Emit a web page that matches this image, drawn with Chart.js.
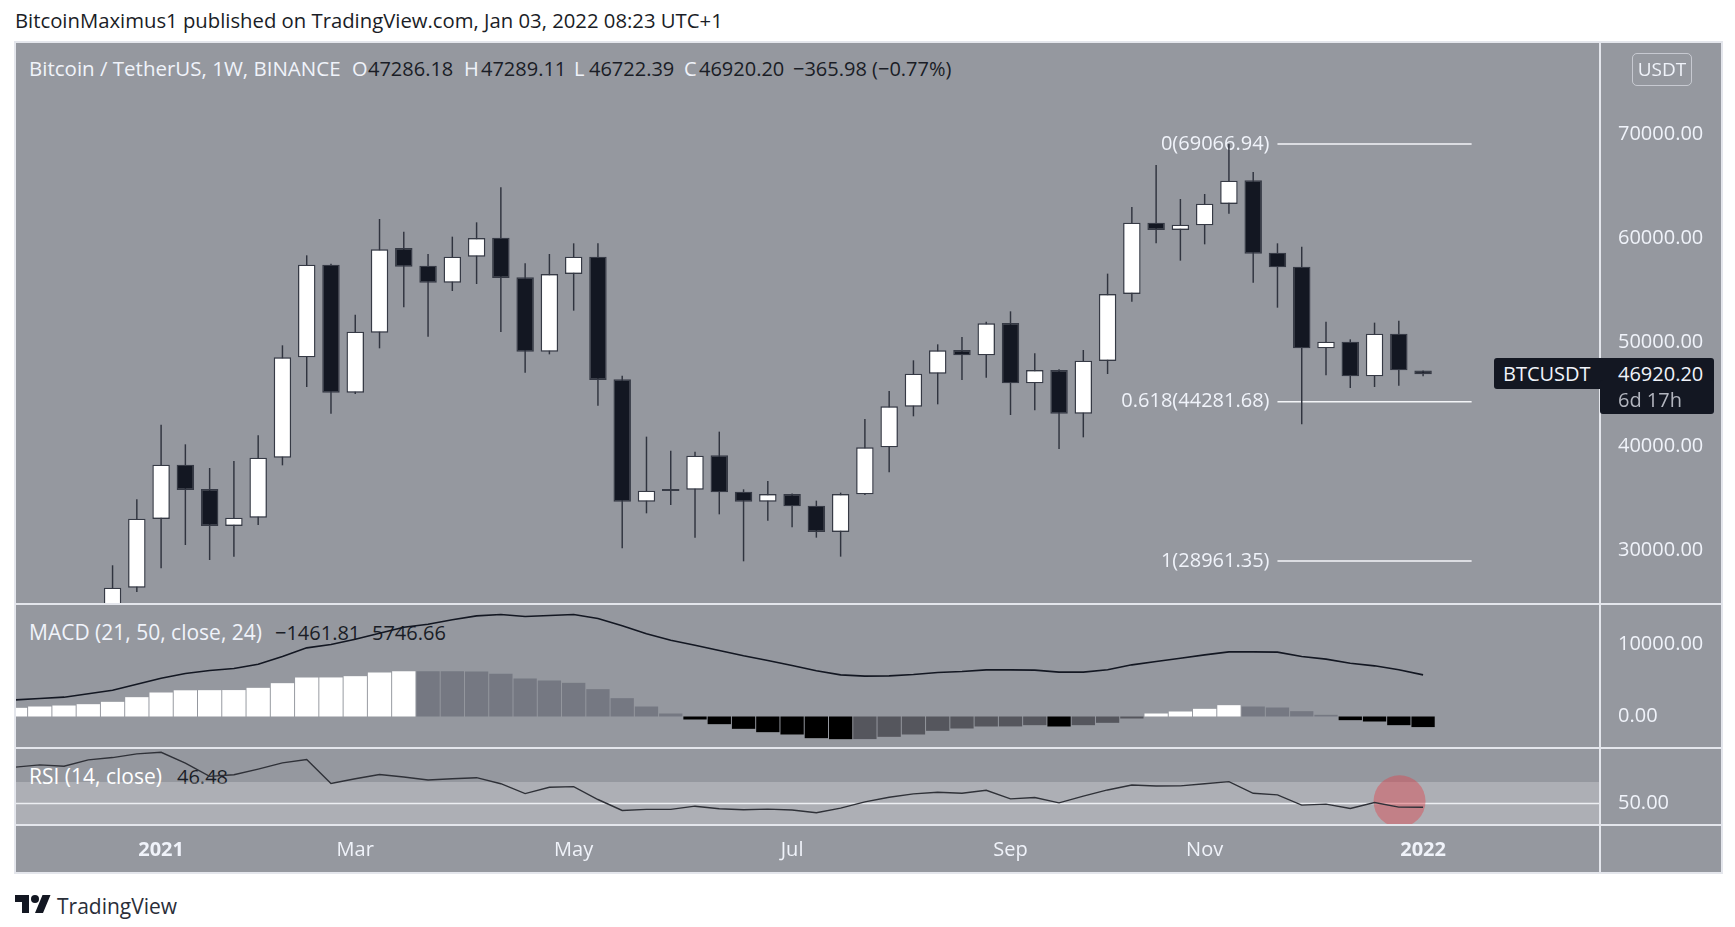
<!DOCTYPE html>
<html>
<head>
<meta charset="utf-8">
<title>BTCUSDT 1W</title>
<script src="https://cdn.jsdelivr.net/npm/chart.js@4"></script>
<style>
    html, body { margin: 0; padding: 0; background: #fff; }
    body { width: 1735px; height: 927px; position: relative; overflow: hidden; font-family: "Open Sans", sans-serif; }
    .pane-bg { position: absolute; left: 15px; top: 42px; width: 1707px; height: 831px; background: #95989f; z-index: 0; }
    .txt { position: absolute; transform: translateY(-50%); white-space: pre; font-size: 20px; z-index: 1; color: #f0f3fa; }
    .dark { color: #1a1d26; }
    canvas { position: absolute; z-index: 2; }
    .rule { position: absolute; background: #e4e6ec; z-index: 3; }
    .tag { position: absolute; background: #131722; z-index: 4; border-radius: 3px; }
    .tag-txt { z-index: 5; }
    .usdt { position: absolute; left: 1632px; top: 53px; width: 58px; height: 31px; line-height: 31px; text-align: center;
            border: 1px solid rgba(240,243,250,.55); border-radius: 5px; color: #f0f3fa; font-size: 19px; z-index: 3; }
    svg { position: absolute; left: 15px; top: 891px; }
</style>
</head>
<body>
<div class="pane-bg"></div>

<div class="txt dark" style="left:15px;top:20px;font-size:20.3px">BitcoinMaximus1 published on TradingView.com, Jan 03, 2022 08:23 UTC+1</div>

<div class="txt" style="left:29px;top:68px;font-size:20.5px">Bitcoin / TetherUS, 1W, BINANCE</div>
<div class="txt" style="left:352px;top:68px">O</div><div class="txt dark" style="left:368px;top:68px">47286.18</div>
<div class="txt" style="left:464px;top:68px">H</div><div class="txt dark" style="left:481px;top:68px">47289.11</div>
<div class="txt" style="left:574px;top:68px">L</div><div class="txt dark" style="left:589px;top:68px">46722.39</div>
<div class="txt" style="left:684px;top:68px">C</div><div class="txt dark" style="left:699px;top:68px">46920.20</div>
<div class="txt dark" style="left:793px;top:68px">−365.98 (−0.77%)</div>

<div class="txt" style="left:29px;top:632px;font-size:21px">MACD (21, 50, close, 24)</div>
<div class="txt dark" style="left:275px;top:632px">−1461.81</div>
<div class="txt dark" style="left:372px;top:632px">5746.66</div>

<div class="txt" style="left:29px;top:776px;font-size:21px;color:#ffffff">RSI (14, close)</div>
<div class="txt dark" style="left:177px;top:776px">46.48</div>

<canvas id="priceChart" width="1707" height="562" style="left:15px;top:42px"></canvas>
<canvas id="macdChart" width="1707" height="144" style="left:15px;top:604px"></canvas>
<canvas id="rsiChart" width="1707" height="125" style="left:15px;top:748px"></canvas>

<!-- frame and pane separators -->
<div class="rule" style="left:14px;top:41px;width:1709px;height:2px"></div>
<div class="rule" style="left:14px;top:41px;width:2px;height:833px"></div>
<div class="rule" style="left:1721px;top:41px;width:2px;height:833px"></div>
<div class="rule" style="left:14px;top:872px;width:1709px;height:2px"></div>
<div class="rule" style="left:14px;top:603px;width:1709px;height:2px"></div>
<div class="rule" style="left:14px;top:747px;width:1709px;height:2px"></div>
<div class="rule" style="left:14px;top:824px;width:1709px;height:2px"></div>
<div class="rule" style="left:1599px;top:41px;width:2px;height:833px"></div>

<div class="usdt">USDT</div>

<!-- last price tag -->
<div class="tag" style="left:1494px;top:358px;width:220px;height:31px"></div>
<div class="tag" style="left:1600px;top:380px;width:114px;height:34px"></div>
<div class="txt tag-txt" style="left:1503px;top:373px">BTCUSDT</div>
<div class="txt tag-txt" style="left:1618px;top:373px">46920.20</div>
<div class="txt tag-txt" style="left:1618px;top:399px;color:#b2b5be">6d 17h</div>

<svg width="36" height="28" viewBox="0 0 36 28"><path fill="#131722" d="M14 22H7V11H0V4h14v18zM28 22h-8l7.5-18h8L28 22z"/><circle fill="#131722" cx="20" cy="8" r="4"/></svg>
<div class="txt" style="left:57px;top:906px;font-size:21px;color:#2a2e39">TradingView</div>

<script>
// weekly candles, first one is the week that sits half under the price pane
const opens = [23700,26395,33000,38225,35885,32326,33128,38899,48549,57461,45150,50921,59064,57365,55730,58230,60058,56243,49094,56564,58231,46433,34667,35885,35820,39123,35628,34667,35404,34282,31749,35372,39892,43804,46978,49254,48741,51851,46048,47330,43130,48196,54640,61500,60795,61244,63296,65572,58615,57268,49414,50055,46721,50825,47286.18];
const highs = [28547,34891,42073,40181,37905,38578,41047,49703,58359,57557,52652,61854,60635,58487,60154,61533,64899,57589,58487,59513,59513,46785,40918,39572,39475,41399,35853,36655,35450,34763,35532,42618,45310,48260,49799,50504,51979,52973,48933,47400,49254,56596,63008,67047,63777,64258,69067,66374,59513,59192,51979,50279,51883,52075,47289.11];
const lows = [23400,25978,28255,30499,29056,29377,32423,38161,45695,43130,45022,49414,53358,50536,54929,55602,50985,47074,48837,53037,43900,30178,33545,34346,31204,33448,28928,32839,32199,31204,29377,35300,37488,42874,44028,46369,46593,43002,43451,39732,40854,46946,53903,59513,57846,59417,62366,55730,53325,42104,46817,45599,45695,45823,46722.39];
const closes = [26392,33032,38225,35789,32326,33128,38899,48549,57461,45150,51017,58936,57268,55730,58230,60026,56179,49094,56563,58230,46369,34667,35725,35693,39091,35564,34667,35404,34218,31749,35404,39892,43836,46978,49222,48741,51819,46048,47330,43130,48228,54640,61500,60795,61308,63328,65540,58519,57204,49414,50055,46721,50825,47298,46920.20];

// the two indicators start 4 weeks before the first candle
const indicatorStart = -4;
const macdHist = [1197,1381,1519,1703,2026,2670,3315,3620,3637,3650,3959,4604,5387,5395,5571,6077,6261,6250,6240,6230,5893,5249,4972,4650,3775,2532,1381,414,-414,-1059,-1703,-2164,-2486,-2993,-3131,-3120,-2809,-2486,-1980,-1657,-1381,-1370,-1197,-1381,-1197,-875,-276,414,691,1059,1565,1381,1243,737,230,-506,-691,-1197,-1461.81];
const macdLine = [2302,2486,2670,3131,3637,4466,5295,5939,6354,6630,7228,8287,9484,9945,10681,11510,12339,12753,13352,13904,14088,13812,13950,14088,13536,12523,11418,10543,9853,9116,8379,7735,7044,6307,5755,5571,5617,5801,6077,6215,6446,6446,6400,6123,6123,6446,7136,7597,8057,8517,8932,8932,8886,8287,7919,7366,6998,6446,5746.66];
const rsiLine = [83.8,85.9,84.7,90.6,92.7,96.1,97.6,87.5,75.2,76.7,82.0,87.8,90.9,68.7,73.0,77.0,74.6,71.8,73.0,74.0,68.4,59.2,65.1,65.7,53.7,43.5,44.5,44.5,47.5,45.1,44.2,44.8,43.9,41.4,45.7,51.5,55.8,58.9,60.4,59.5,62.3,54.3,55.5,50.6,56.8,62.6,67.2,66.3,66.4,68.3,70.3,59.5,58.0,48.5,49.4,45.4,50.9,46.6,46.48];

const priceTicks = [30000,40000,50000,60000,70000];
const macdTicks = [0,10000];
const rsiTicks = [50];
const rsiBand = [70,50,30];

const timeTicks = [2,10,19,28,37,45,54];
const timeLabels = ['2021','Mar','May','Jul','Sep','Nov','2022'];

const fibRatios = ['0','0.618','1'];
const fibPrices = [69066.94,44281.68,28961.35];
const fibFrom = 48;
const fibTo = 56;
const marker = { week: 53.03, rsi: 52.1 };

// x window, same for all panes
const xMin = -4.02;
const xMax = 61.29;

const TICK_COLOR = '#f0f3fa';
const FONT = '"Open Sans", sans-serif';

Chart.defaults.animation = false;
Chart.defaults.responsive = false;
Chart.defaults.font.family = FONT;
Chart.defaults.plugins.legend.display = false;
Chart.defaults.plugins.tooltip.enabled = false;

function yAxis(min, max, values) {
    return {
        position: 'right', min: min, max: max, offset: false,
        grid: { display: false, drawTicks: false },
        border: { display: false },
        afterFit: (axis) => {
            axis.width = 122;
            // labels may hang over the pane, don't let them shrink it
            axis.paddingTop = 0;
            axis.paddingBottom = 0;
        },
        afterBuildTicks: (axis) => { axis.ticks = values.map(v => ({ value: v })); },
        ticks: {
            padding: 18, color: TICK_COLOR, font: { size: 20 },
            callback: (v) => v.toFixed(2)
        }
    };
}

const hiddenX = { type: 'linear', display: false, offset: false, min: xMin, max: xMax };
const noPadding = { autoPadding: false, padding: 0 };
const weeks = opens.map((_, i) => i);
const indicatorWeeks = macdHist.map((_, i) => i + indicatorStart);

// price pane
const fibLabels = {
    id: 'fibLabels',
    beforeDatasetsDraw(chart) {
        const { ctx, scales } = chart;
        ctx.save();
        ctx.fillStyle = TICK_COLOR;
        ctx.font = '20px ' + FONT;
        ctx.textAlign = 'right';
        ctx.textBaseline = 'middle';
        fibPrices.forEach((p, i) => {
            ctx.fillText(fibRatios[i] + '(' + p.toFixed(2) + ')', scales.x.getPixelForValue(fibFrom) - 8, scales.y.getPixelForValue(p));
        });
        ctx.restore();
    }
};

const fibDatasets = fibPrices.map(p => ({
    type: 'line', order: 3,
    data: [{ x: fibFrom, y: p }, { x: fibTo, y: p }],
    borderColor: '#f4f5f8', borderWidth: 1.5, pointRadius: 0
}));

new Chart(document.getElementById('priceChart'), {
    type: 'bar',
    data: {
        datasets: [
            ...fibDatasets,
            {
                // wicks
                order: 2, grouped: false, categoryPercentage: 1, barPercentage: 0.06, inflateAmount: 0,
                data: weeks.map(i => ({ x: i, y: [lows[i], highs[i]] })),
                backgroundColor: '#30343f'
            },
            {
                // bodies
                order: 1, grouped: false, categoryPercentage: 1, barPercentage: 0.72, inflateAmount: 0,
                data: weeks.map(i => ({ x: i, y: [opens[i], closes[i]] })),
                backgroundColor: weeks.map(i => closes[i] > opens[i] ? '#ffffff' : '#131722'),
                borderColor: '#363a45', borderWidth: 1.4, borderSkipped: false
            }
        ]
    },
    options: {
        layout: noPadding,
        scales: { x: hiddenX, y: yAxis(24823, 78877, priceTicks) }
    },
    plugins: [fibLabels]
});

// histogram colour depends on sign and on direction against the previous bar
function histColor(i) {
    const v = macdHist[i];
    const rising = i === 0 || v >= macdHist[i - 1];
    if (v >= 0) return rising ? '#ffffff' : '#757882';
    return rising ? '#55565d' : '#000000';
}

new Chart(document.getElementById('macdChart'), {
    type: 'bar',
    data: {
        datasets: [
            {
                type: 'line', order: 1,
                data: indicatorWeeks.map((w, i) => ({ x: w, y: macdLine[i] })),
                borderColor: '#131722', borderWidth: 1.6, pointRadius: 0
            },
            {
                order: 2, grouped: false, categoryPercentage: 1, barPercentage: 0.96, inflateAmount: 0,
                data: indicatorWeeks.map((w, i) => ({ x: w, y: macdHist[i] })),
                backgroundColor: macdHist.map((_, i) => histColor(i))
            }
        ]
    },
    options: {
        layout: noPadding,
        scales: { x: hiddenX, y: yAxis(-4351, 15539, macdTicks) }
    }
});

// rsi pane, also carries the time axis
const bandLine = (v, extra) => Object.assign({
    type: 'line', order: 5,
    data: [{ x: xMin, y: v }, { x: xMax, y: v }],
    borderWidth: 0, pointRadius: 0
}, extra);

new Chart(document.getElementById('rsiChart'), {
    type: 'line',
    data: {
        datasets: [
            // translucent so the legend under the canvas stays readable
            bandLine(rsiBand[0], { fill: { target: { value: rsiBand[2] } }, backgroundColor: 'rgba(255,255,255,0.23)' }),
            bandLine(rsiBand[1], { order: 4, borderColor: '#eceef2', borderWidth: 1.5 }),
            {
                type: 'scatter', order: 3,
                data: [{ x: marker.week, y: marker.rsi }],
                pointRadius: 26, pointBorderWidth: 0,
                pointBackgroundColor: 'rgba(220,70,80,0.45)'
            },
            {
                order: 1,
                data: indicatorWeeks.map((w, i) => ({ x: w, y: rsiLine[i] })),
                borderColor: '#2f3138', borderWidth: 1.4, pointRadius: 0
            }
        ]
    },
    options: {
        layout: noPadding,
        scales: {
            x: {
                type: 'linear', min: xMin, max: xMax, offset: false,
                grid: { display: false, drawTicks: false },
                border: { display: false },
                afterFit: (axis) => { axis.height = 48; },
                afterBuildTicks: (axis) => { axis.ticks = timeTicks.map(v => ({ value: v })); },
                ticks: {
                    autoSkip: false, maxRotation: 0, padding: 13, color: TICK_COLOR,
                    font: (c) => ({ size: 20, weight: (c.tick && (c.tick.value === 2 || c.tick.value === 54)) ? 'bold' : 'normal' }),
                    callback: (v) => timeLabels[timeTicks.indexOf(v)]
                }
            },
            y: yAxis(30, 101.6, rsiTicks)
        }
    }
});
</script>
</body>
</html>
